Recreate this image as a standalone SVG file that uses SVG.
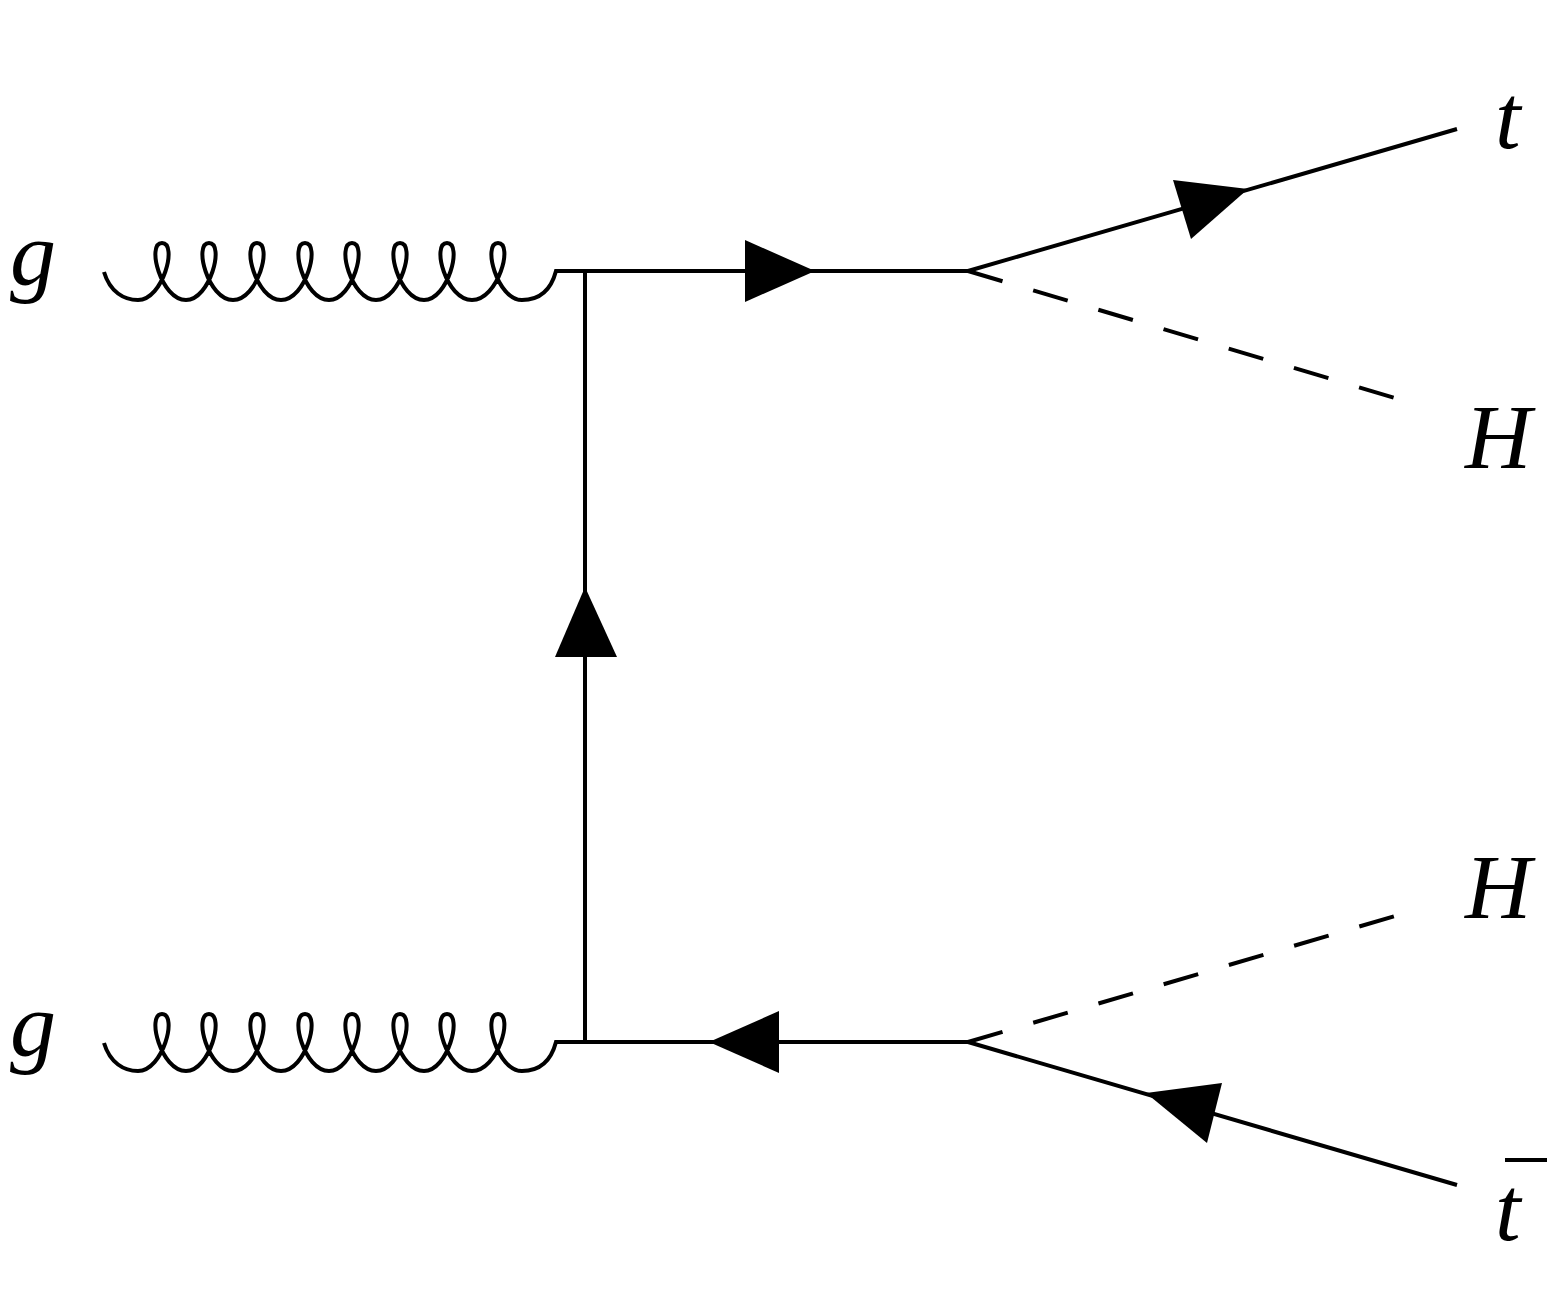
<svg xmlns="http://www.w3.org/2000/svg" width="1567" height="1310" viewBox="0 0 1567 1310">
<style>
.l{fill:none;stroke:#000;stroke-width:4}
.d{fill:none;stroke:#000;stroke-width:4;stroke-dasharray:36 32}
.a{fill:#000}
text{font-family:"Liberation Serif",serif;font-style:italic;font-size:92px;fill:#000}
</style>
<defs>
<path id="gl" class="l" d="M104,272 C110,292 124,300 138,300 C163,300 178,243 162,243 C146,243 161,300 186,300 C210,300 225,243 209,243 C193,243 208,300 233,300 C258,300 273,243 257,243 C241,243 256,300 281,300 C306,300 321,243 305,243 C289,243 304,300 329,300 C353,300 368,243 352,243 C336,243 351,300 376,300 C401,300 416,243 400,243 C384,243 399,300 424,300 C448,300 463,243 447,243 C431,243 446,300 472,300 C498,300 514,243 498,243 C482,243 497,300 522,300 C540,300 551,290 556,271 L586,271"/>
</defs>
<g id="connectors">
<use href="#gl"/>
<use href="#gl" y="771"/>
<path class="l" d="M556,271 H968 M585,271 V1042 M556,1042 H968 M968,271 L1457,129 M968,1042 L1457,1185"/>
<path class="d" d="M968,271 L1395,398 M968,1042 L1395,916"/>
<polygon class="a" points="745,240 815,271 745,302"/>
<polygon class="a" points="555,657 585,587 617,657"/>
<polygon class="a" points="779,1011 709,1042 779,1073"/>
<polygon class="a" points="1173,180 1248,189 1191,239"/>
<polygon class="a" points="1222,1083 1146,1093 1207,1143"/>
</g>
<g id="g1"><text x="10" y="285">g</text></g>
<g id="g2"><text x="10" y="1056">g</text></g>
<g id="t"><text x="1495" y="148">t</text></g>
<g id="H1"><text x="1465" y="468">H</text></g>
<g id="H2"><text x="1465" y="918">H</text></g>
<g id="tbar"><text x="1495" y="1240">t</text><line x1="1505" y1="1160" x2="1547" y2="1160" stroke="#000" stroke-width="4"/></g>
</svg>
